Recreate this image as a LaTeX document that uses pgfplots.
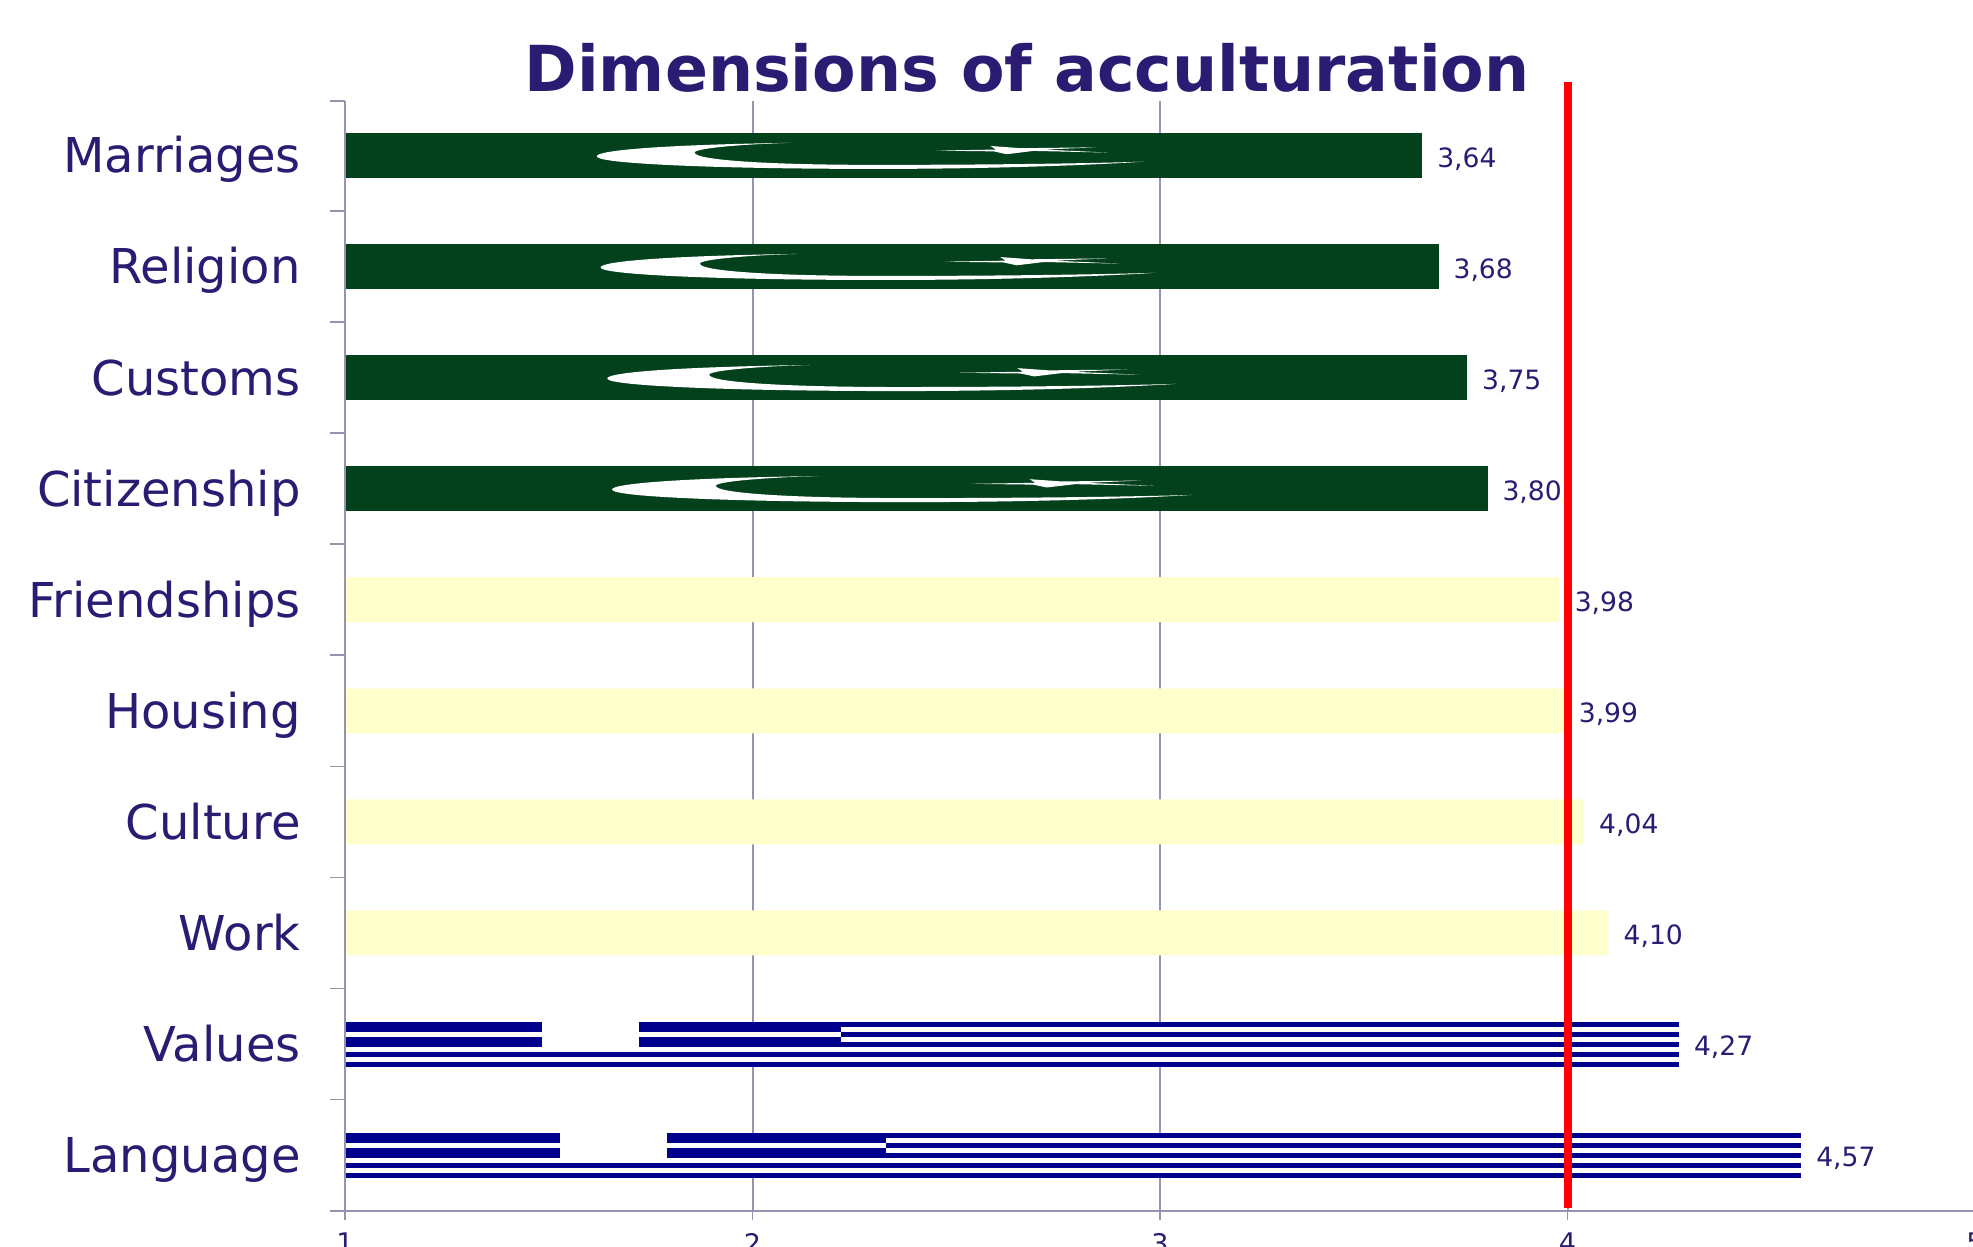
\documentclass[border=0pt]{standalone}
\usepackage{fontspec}
\setmainfont{DejaVu Sans}
\usepackage{pgfplots}
\pgfplotsset{compat=1.18}
\definecolor{txt}{RGB}{43,27,115}
\definecolor{axg}{RGB}{150,146,176}
\definecolor{navyb}{RGB}{0,0,140}
\definecolor{greenb}{RGB}{3,64,28}
\definecolor{yell}{RGB}{255,255,204}
% Crescent and star of the flag fill; #1 = category position, #2 = bar length from x=1
\newcommand{\crescentflag}[2]{%
\begin{scope}[shift={(axis cs:1,#1+0.2025)},x={(axis direction cs:#2,0)},y={(axis direction cs:0,-0.405)}]
\fill[white] (.415,.22) .. controls (.30,.26) and (.234,.38) .. (.234,.52)
 .. controls (.234,.70) and (.36,.80) .. (.493,.80)
 .. controls (.60,.80) and (.69,.72) .. (.742,.64)
 .. controls (.67,.69) and (.58,.71) .. (.493,.71)
 .. controls (.39,.71) and (.325,.60) .. (.325,.437)
 .. controls (.325,.34) and (.37,.25) .. cycle;
\fill[white] (.549,.393) -- (.605,.37) -- (.600,.29) -- (.628,.34) -- (.698,.32)
 -- (.650,.37) -- (.709,.437) -- (.640,.40) -- (.615,.474) -- (.603,.41) -- cycle;
\end{scope}}
% Stripes, canton and cross of the flag fill
\newcommand{\stripeflag}[2]{%
\begin{scope}[shift={(axis cs:1,#1+0.2025)},x={(axis direction cs:#2,0)},y={(axis direction cs:0,-0.405)}]
\fill[white] (-.002,1/9) rectangle (1.003,2/9);
\fill[white] (-.002,3/9) rectangle (1.003,4/9);
\fill[white] (-.002,5/9) rectangle (1.003,6/9);
\fill[white] (-.002,7/9) rectangle (1.003,8/9);
\fill[navyb] (0,0) rectangle (.372,5/9);
\fill[white] (-.002,2/9) rectangle (.372,3/9);
\fill[white] (.148,-.05) rectangle (.221,5/9);
\end{scope}}
\begin{document}
\begin{tikzpicture}[x=1pt,y=1pt]
\path[use as bounding box] (0,0) rectangle (986.5,623);
\clip (0,0) rectangle (986.5,623);
\node[font=\fontsize{31.7}{33}\selectfont\bfseries,text=txt,anchor=base] at (513.5,577) {Dimensions of acculturation};
\begin{axis}[
  at={(172.5pt,17.5pt)},anchor=south west,
  scale only axis,width=815pt,height=555pt,
  xmin=1,xmax=5,ymin=0.497,ymax=10.49,
  clip=false,
  axis x line*=bottom,axis y line*=left,
  axis line style={axg,line width=1pt,-},
  xbar,bar width=22.5pt,bar shift=0pt,
  xtick={1,2,3,4,5},xticklabels={1,2,3,4,5},
  xmajorgrids,grid style={axg,line width=1pt},
  ytick={1,...,10},
  yticklabels={Language,Values,Work,Culture,Housing,Friendships,Citizenship,Customs,Religion,Marriages},
  minor ytick={0.497,1.5,2.5,3.5,4.5,5.5,6.5,7.5,8.5,9.5,10.49},
  minor tick length=7.5pt,
  major tick length=4.5pt,
  tick align=outside,
  major x tick style={axg,line width=0.8pt},
  major y tick style={draw=none},
  minor y tick style={axg,line width=0.8pt},
  y tick label style={font=\fontsize{24}{24}\selectfont,text=txt,anchor=east,xshift=-14.2pt,text height=17.5pt,text depth=0pt},
  x tick label style={font=\fontsize{13.5}{13.5}\selectfont,text=txt,yshift=-3pt},
  /pgf/number format/.cd,use comma,fixed,fixed zerofill,precision=2,assume math mode=true,
  /pgfplots/.cd,
  nodes near coords,
  every node near coord/.append style={font=\fontsize{13.3}{13.5}\selectfont,text=txt,inner xsep=0pt,xshift=7.5pt,text height=9.7pt,text depth=0pt,yshift=-1pt},
]
\addplot[fill=navyb,draw=navyb,line width=1.5pt,bar width=21pt] coordinates {(4.57,1) (4.27,2)};
\addplot[fill=yell,draw=none] coordinates {(4.10,3) (4.04,4) (3.99,5) (3.98,6)};
\addplot[fill=greenb,draw=greenb,line width=1.5pt,bar width=21pt] coordinates {(3.80,7) (3.75,8) (3.68,9) (3.64,10)};
\stripeflag{1}{3.57}
\stripeflag{2}{3.27}
\crescentflag{7}{2.80}
\crescentflag{8}{2.75}
\crescentflag{9}{2.68}
\crescentflag{10}{2.64}
\addplot[axg,line width=1pt,xbar=false,sharp plot,no markers,nodes near coords=] coordinates {(1,0.497) (1,10.49)};
\addplot[red,line width=4pt,xbar=false,sharp plot,no markers,nodes near coords=] coordinates {(4,0.525) (4,10.66)};
\end{axis}
\end{tikzpicture}
\end{document}
